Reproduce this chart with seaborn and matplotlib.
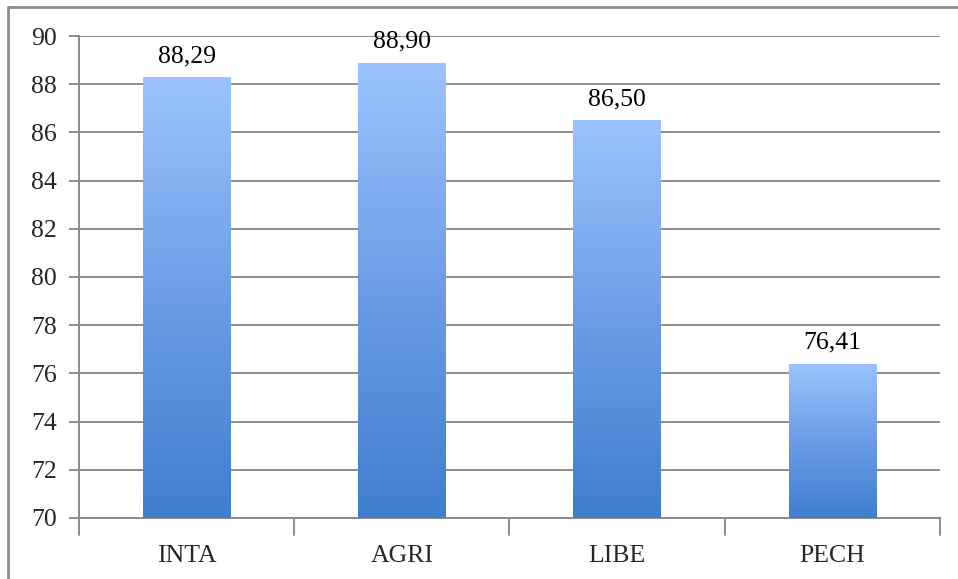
import numpy as np
import pandas as pd
import matplotlib
matplotlib.use('Agg')
import matplotlib.pyplot as plt
import seaborn as sns
from matplotlib.colors import LinearSegmentedColormap
from matplotlib.lines import Line2D

# Dados do gráfico
categorias = ['INTA', 'AGRI', 'LIBE', 'PECH']
valores = [88.29, 88.90, 86.50, 76.41]
rotulos = ['88,29', '88,90', '86,50', '76,41']

df = pd.DataFrame({'cat': categorias, 'val': valores})

sns.set_style('white')
plt.rcParams['font.family'] = ['Liberation Serif', 'DejaVu Serif']

fig = plt.figure(figsize=(9.58, 5.79), dpi=100)
ax = fig.add_axes([0.0825, 0.1054, 0.8985, 0.8324])

sns.barplot(data=df, x='cat', y='val', color='#5b8fe0', width=0.405, ax=ax,
            bottom=0, zorder=3)

ax.set_ylim(70, 90)
ax.set_xlim(-0.5, 3.5)

# Gradiente vertical em cada barra (escuro em baixo, claro em cima)
cmap = LinearSegmentedColormap.from_list('grad', ['#3f7ecf', '#6c9de6', '#9cc3ff'])
grad = np.linspace(0, 1, 256).reshape(-1, 1)
for p in ax.patches:
    x0, w = p.get_x(), p.get_width()
    y1 = p.get_height()
    im = ax.imshow(grad, cmap=cmap, origin='lower', aspect='auto',
                   extent=(x0, x0 + w, 70, y1), zorder=4)
    im.set_clip_path(p)
    p.set_edgecolor('none')

ax.set_xlim(-0.5, 3.5)
ax.set_ylim(70, 90)

# Rótulos de valor
for i, (v, r) in enumerate(zip(valores, rotulos)):
    ax.text(i, v + 0.42, r, ha='center', va='bottom', fontsize=18.5, color='black', zorder=6)

# Grade e eixos
ax.set_yticks(range(70, 91, 2))
ax.yaxis.grid(True, color='#8c8c8c', linewidth=1.4, zorder=0)
ax.set_axisbelow(True)
for s in ['top', 'right']:
    ax.spines[s].set_visible(False)
for s in ['left', 'bottom']:
    ax.spines[s].set_color('#8c8c8c')
    ax.spines[s].set_linewidth(1.4)

ax.tick_params(axis='y', left=True, length=7, width=1.4, color='#8c8c8c',
               labelsize=18.5, pad=9)
ax.tick_params(axis='x', bottom=False, labelsize=18.5, pad=16)
ax.set_xlabel('')
ax.set_ylabel('')

# Marcas entre categorias no eixo x
for xb in [-0.5, 0.5, 1.5, 2.5, 3.5]:
    ax.plot([xb, xb], [70, 69.3], color='#8c8c8c', linewidth=1.4,
            clip_on=False, zorder=5)

# Moldura externa
fig.add_artist(Line2D([8 / 958, 1], [1 - 6.5 / 579] * 2, color='#8c8c8c', linewidth=2))
fig.add_artist(Line2D([8 / 958] * 2, [0, 1 - 6.5 / 579], color='#8c8c8c', linewidth=2))

plt.savefig('out.png', dpi=100)
